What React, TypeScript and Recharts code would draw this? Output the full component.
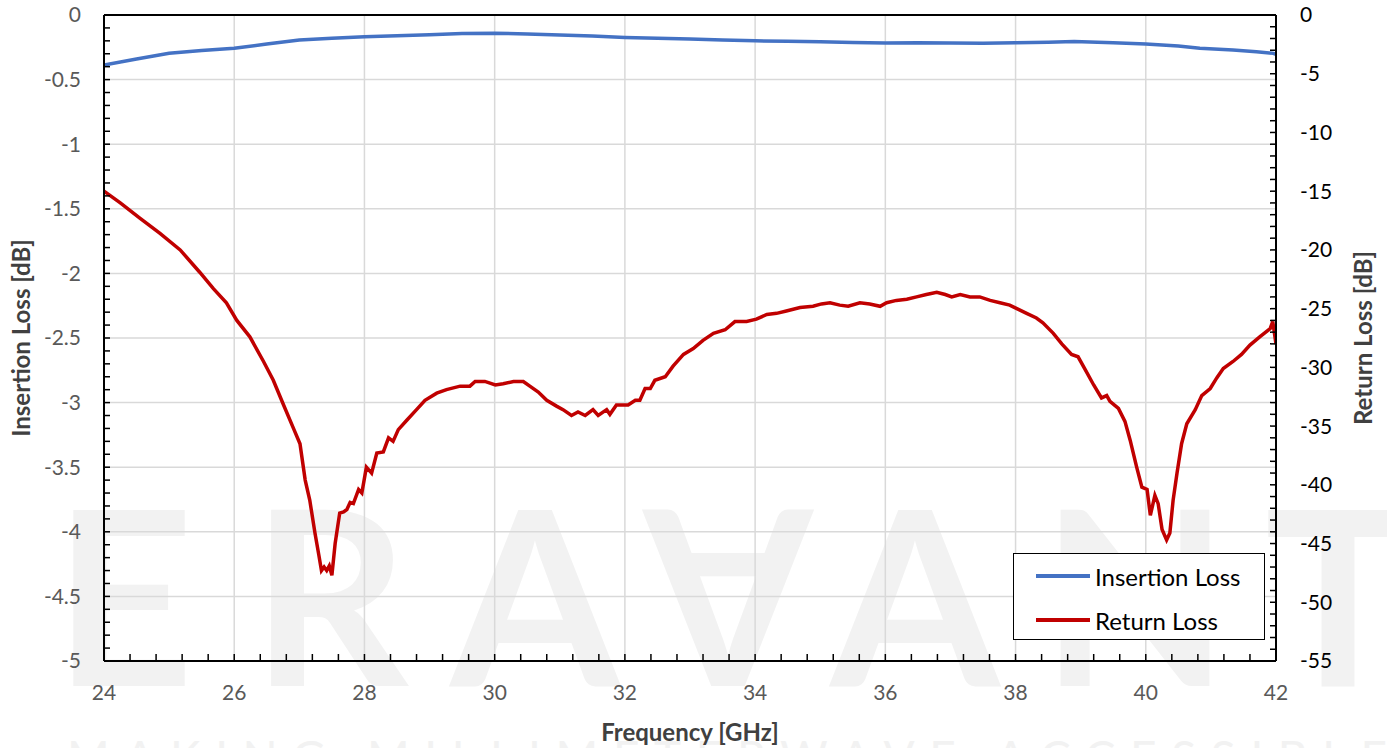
import React from 'react';
import { LineChart, Line, XAxis, YAxis, CartesianGrid, Legend, ReferenceLine } from 'recharts';

// Insertion loss (left axis, dB)
const ilFreq = [24, 24.5, 25, 25.5, 26, 26.5, 27, 27.5, 28, 28.5, 29, 29.5, 30, 30.5, 31, 31.5, 32, 32.5, 33, 33.5, 34, 34.5, 35, 35.5, 36, 36.5, 37, 37.5, 38, 38.5, 38.9, 39.5, 40, 40.5, 40.83, 41.34, 41.7, 41.96, 42];
const ilLoss = [-0.387, -0.34, -0.296, -0.275, -0.258, -0.225, -0.193, -0.18, -0.168, -0.16, -0.152, -0.143, -0.141, -0.147, -0.155, -0.163, -0.174, -0.18, -0.186, -0.194, -0.2, -0.204, -0.207, -0.212, -0.217, -0.214, -0.217, -0.219, -0.215, -0.21, -0.206, -0.215, -0.224, -0.24, -0.258, -0.271, -0.285, -0.297, -0.305];

// Return loss (right axis, dB)
const rlFreq = [
  24, 24.25, 24.55, 24.86, 25.17, 25.47, 25.68, 25.88, 26.04, 26.24, 26.45, 26.6, 26.75, 26.91, 27.01, 27.09, 27.16, 27.24, 27.3, 27.34,
  27.38, 27.42, 27.46, 27.5, 27.55, 27.62, 27.68, 27.73, 27.78, 27.83, 27.91, 27.96, 28.03, 28.11, 28.19, 28.29, 28.37, 28.44, 28.52, 28.65,
  28.8, 28.93, 29.11, 29.26, 29.47, 29.62, 29.7, 29.85, 30.01, 30.13, 30.29, 30.44, 30.54, 30.67, 30.8, 30.95, 31.05, 31.18, 31.28, 31.39,
  31.51, 31.59, 31.72, 31.77, 31.87, 32.05, 32.16, 32.23, 32.31, 32.39, 32.46, 32.62, 32.74, 32.9, 33.05, 33.2, 33.36, 33.54, 33.69, 33.87,
  34.02, 34.18, 34.33, 34.48, 34.69, 34.89, 35.02, 35.15, 35.3, 35.43, 35.61, 35.76, 35.92, 36.02, 36.17, 36.33, 36.48, 36.63, 36.79, 36.92,
  37.02, 37.15, 37.3, 37.45, 37.61, 37.76, 37.91, 38.02, 38.17, 38.32, 38.42, 38.58, 38.71, 38.86, 38.96, 39.07, 39.2, 39.32, 39.4, 39.45,
  39.58, 39.68, 39.76, 39.86, 39.94, 40.02, 40.07, 40.14, 40.19, 40.25, 40.32, 40.37, 40.42, 40.48, 40.55, 40.63, 40.76, 40.86, 40.99, 41.09,
  41.19, 41.34, 41.47, 41.6, 41.75, 41.91, 41.95, 42,
];
const rlLoss = [
  -15.0, -16.0, -17.3, -18.6, -20.0, -21.9, -23.3, -24.5, -26.0, -27.4, -29.5, -31.1, -33.1, -35.2, -36.5, -39.6, -41.3, -44.1, -46.0, -47.3,
  -47.0, -47.3, -46.9, -47.7, -45.0, -42.4, -42.3, -42.1, -41.5, -41.6, -40.4, -40.7, -38.5, -39.0, -37.3, -37.2, -36.0, -36.3, -35.3, -34.5,
  -33.6, -32.8, -32.2, -31.9, -31.6, -31.6, -31.2, -31.2, -31.5, -31.4, -31.2, -31.2, -31.6, -32.1, -32.8, -33.3, -33.6, -34.1, -33.8, -34.1,
  -33.6, -34.1, -33.6, -34.0, -33.2, -33.2, -32.8, -32.8, -31.8, -31.8, -31.1, -30.8, -29.9, -28.9, -28.4, -27.7, -27.1, -26.8, -26.1, -26.1,
  -25.9, -25.5, -25.4, -25.2, -24.9, -24.8, -24.6, -24.5, -24.7, -24.8, -24.5, -24.6, -24.8, -24.5, -24.3, -24.2, -24.0, -23.8, -23.6, -23.8,
  -24.0, -23.8, -24.0, -24.0, -24.3, -24.5, -24.7, -25.0, -25.4, -25.8, -26.2, -27.1, -28.0, -28.9, -29.1, -30.2, -31.5, -32.6, -32.4, -32.9,
  -33.5, -34.6, -36.2, -38.5, -40.2, -40.4, -42.6, -40.9, -41.6, -43.8, -44.7, -44.1, -41.3, -39.0, -36.5, -34.8, -33.6, -32.4, -31.8, -30.9,
  -30.1, -29.5, -28.9, -28.1, -27.4, -26.7, -26.1, -28.0,
];

const xTicks = [24, 26, 28, 30, 32, 34, 36, 38, 40, 42];
const leftTicks = [0, -0.5, -1, -1.5, -2, -2.5, -3, -3.5, -4, -4.5, -5];
const rightTicks = [0, -5, -10, -15, -20, -25, -30, -35, -40, -45, -50, -55];

// minor tick positions (Excel-style inside ticks)
const xMinor = Array.from({ length: 46 }, (_, i) => Math.round((24 + i * 0.4) * 10) / 10);
const leftMinor = Array.from({ length: 51 }, (_, i) => -i / 10);
const rightMinor = Array.from({ length: 56 }, (_, i) => -i);

const IL_COLOR = '#4472c4';
const RL_COLOR = '#c00000';

const ilData = ilFreq.map((f, i) => ({ f, v: ilLoss[i] }));
const rlData = rlFreq.map((f, i) => ({ f, v: rlLoss[i] }));

const onlyMajor = (majors: number[]) => (v: number) => (majors.includes(v) ? String(v) : '');

function VerticalTitle(props: any) {
  const { viewBox, text, dx, fill } = props;
  if (!viewBox) return null;
  const cx = viewBox.x + dx;
  const cy = viewBox.y + viewBox.height / 2;
  return (
    <text
      x={cx}
      y={cy}
      transform={`rotate(-90 ${cx} ${cy})`}
      textAnchor="middle"
      dominantBaseline="central"
      fontSize={24}
      fontWeight={700}
      fill={fill}
    >
      {text}
    </text>
  );
}

function BottomTitle(props: any) {
  const { viewBox } = props;
  if (!viewBox) return null;
  return (
    <text
      x={viewBox.x + viewBox.width / 2}
      y={viewBox.y + 70}
      textAnchor="middle"
      dominantBaseline="central"
      fontSize={24}
      fontWeight={700}
      fill="#404040"
    >
      Frequency [GHz]
    </text>
  );
}

function LegendBox({ payload }: any) {
  return (
    <div
      style={{
        boxSizing: 'border-box',
        width: 252,
        height: 87,
        border: '1.5px solid #000',
        background: '#fff',
        padding: '0 0 0 22px',
      }}
    >
      {(payload || []).map((p: any) => (
        <div key={p.value} style={{ display: 'flex', alignItems: 'center', height: 44 }}>
          <span style={{ display: 'inline-block', width: 54, height: 3.5, background: p.color, marginRight: 5 }} />
          <span style={{ fontSize: 24, color: '#000' }}>{p.value}</span>
        </div>
      ))}
    </div>
  );
}

function Watermark() {
  const letters = [
    { ch: 'E', x: 124 },
    { ch: 'R', x: 330 },
    { ch: 'A', x: 535 },
    { ch: 'A', x: 728, flip: true },
    { ch: 'A', x: 915 },
    { ch: 'N', x: 1135 },
    { ch: 'T', x: 1338 },
  ];
  return (
    <svg width={1387} height={748} style={{ position: 'absolute', left: 0, top: 0 }}>
      {letters.map((l, i) => (
        <text
          key={i}
          x={l.x}
          y={686}
          textAnchor="middle"
          fontSize={244}
          fontWeight={700}
          fill="#f2f2f2"
          transform={l.flip ? `rotate(180 ${l.x} 598)` : undefined}
        >
          {l.ch}
        </text>
      ))}
      <text x={67} y={774} fontSize={46} fill="#f2f2f2" textLength={1320} lengthAdjust="spacing">
        MAKING MILLIMETERWAVE ACCESSIBLE
      </text>
    </svg>
  );
}

export default function App() {
  return (
    <div
      style={{
        position: 'absolute',
        left: 0,
        top: 0,
        width: 1387,
        height: 748,
        overflow: 'hidden',
        background: '#fff',
        fontFamily: 'Lato, sans-serif',
      }}
    >
      <Watermark />
      <div style={{ position: 'absolute', left: 0, top: 0 }}>
        <LineChart width={1387} height={748} margin={{ top: 15, right: 0, bottom: 0, left: 0 }}>
          <CartesianGrid
            xAxisId="x"
            yAxisId="left"
            stroke="#d9d9d9"
            strokeWidth={1.5}
            horizontalValues={leftTicks}
            verticalValues={xTicks}
          />
          <XAxis
            xAxisId="x"
            dataKey="f"
            type="number"
            domain={[24, 42]}
            ticks={xMinor}
            interval={0}
            allowDataOverflow
            height={87}
            tickSize={-7}
            tickMargin={31}
            tickFormatter={onlyMajor(xTicks)}
            tick={{ fill: '#595959', fontSize: 21 }}
            tickLine={{ stroke: '#000', strokeWidth: 1.5 }}
            axisLine={{ stroke: '#000', strokeWidth: 2 }}
            label={{ content: (p: any) => <BottomTitle {...p} /> }}
          />
          <YAxis
            yAxisId="left"
            orientation="left"
            type="number"
            domain={[-5, 0]}
            ticks={leftMinor}
            interval={0}
            allowDataOverflow
            width={104}
            tickSize={-6}
            tickMargin={29}
            tickFormatter={onlyMajor(leftTicks)}
            tick={{ fill: '#595959', fontSize: 21 }}
            tickLine={{ stroke: '#000', strokeWidth: 1.5 }}
            axisLine={{ stroke: '#000', strokeWidth: 2 }}
            label={{ content: (p: any) => <VerticalTitle {...p} text="Insertion Loss [dB]" dx={20} fill="#404040" /> }}
          />
          <YAxis
            yAxisId="right"
            orientation="right"
            type="number"
            domain={[-55, 0]}
            ticks={rightMinor}
            interval={0}
            allowDataOverflow
            width={111}
            tickSize={-6}
            tickMargin={30}
            tickFormatter={onlyMajor(rightTicks)}
            tick={{ fill: '#000', fontSize: 21 }}
            tickLine={{ stroke: '#000', strokeWidth: 1.5 }}
            axisLine={{ stroke: '#000', strokeWidth: 2 }}
            label={{ content: (p: any) => <VerticalTitle {...p} text="Return Loss [dB]" dx={86} fill="#404040" /> }}
          />
          <ReferenceLine xAxisId="x" yAxisId="left" y={0} stroke="#000" strokeWidth={2} />
          <Line
            xAxisId="x"
            yAxisId="left"
            data={ilData}
            dataKey="v"
            name="Insertion Loss"
            type="linear"
            stroke={IL_COLOR}
            strokeWidth={3.5}
            dot={false}
            isAnimationActive={false}
          />
          <Line
            xAxisId="x"
            yAxisId="right"
            data={rlData}
            dataKey="v"
            name="Return Loss"
            type="linear"
            stroke={RL_COLOR}
            strokeWidth={3.5}
            dot={false}
            isAnimationActive={false}
          />
          <Legend
            layout="vertical"
            align="center"
            verticalAlign="middle"
            content={(p: any) => <LegendBox {...p} />}
            wrapperStyle={{ position: 'absolute', left: 1013, top: 553, width: 252, height: 87 }}
          />
        </LineChart>
      </div>
    </div>
  );
}
